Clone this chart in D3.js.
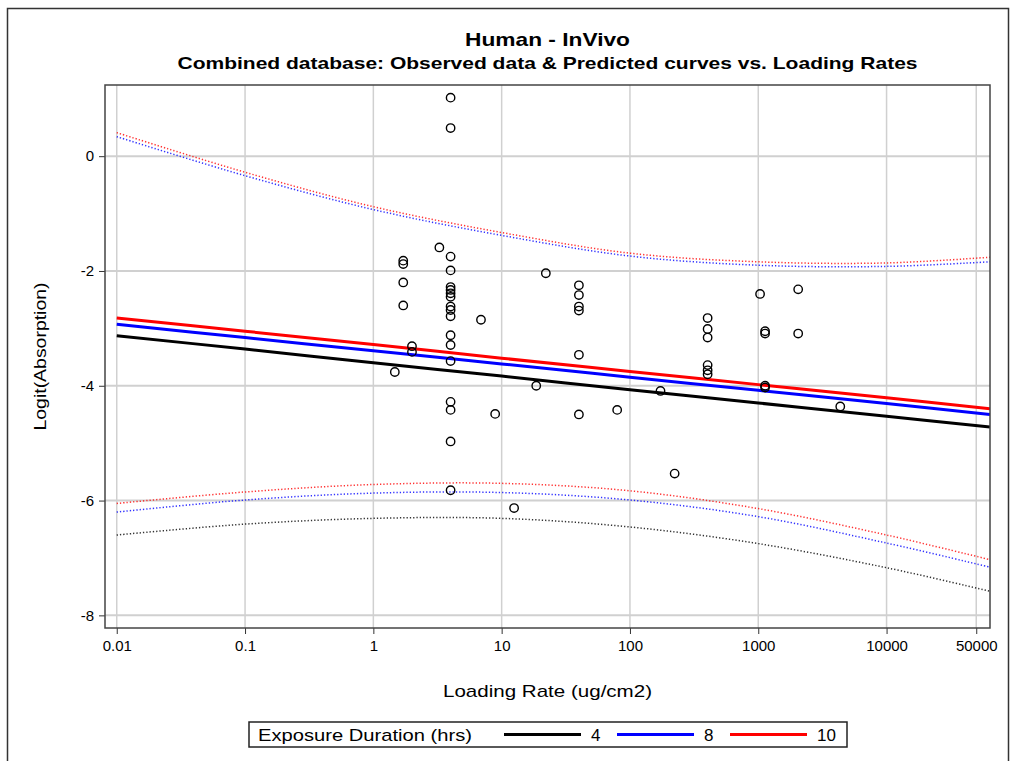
<!DOCTYPE html>
<html>
<head>
<meta charset="utf-8">
<script src="https://cdn.jsdelivr.net/npm/d3@7"></script>
<style>
  html, body { margin: 0; padding: 0; background: #fff; }
  svg text { font-family: "Liberation Sans", Arial, sans-serif; fill: #000; }
</style>
</head>
<body>
<svg id="chart" width="1013" height="761"></svg>
<script>
// Observed data: loading rate (ug/cm2) and logit(absorption)
const obsLoading = [
  1.47, 1.71, 1.71, 1.71, 1.71, 2.0, 2.0, 3.27,
  4, 4, 4, 4, 4, 4, 4, 4, 4, 4, 4, 4, 4, 4, 4, 4, 4, 4,
  6.9, 8.9, 12.5, 18.6, 22.1,
  40, 40, 40, 40, 40, 40,
  79.5, 173, 223,
  403, 403, 403, 403, 403, 403,
  1033, 1130, 1130, 1130, 1130, 2047, 2047, 4356
];
const obsLogit = [
  -3.76, -1.82, -1.88, -2.2, -2.6, -3.31, -3.41, -1.59,
  1.02, 0.49, -1.75, -1.99, -2.28, -2.33, -2.39, -2.45, -2.62, -2.68, -2.79, -3.12, -3.29, -3.57, -4.28, -4.42, -4.97, -5.82,
  -2.85, -4.49, -6.13, -4.0, -2.04,
  -2.25, -2.42, -2.62, -2.69, -3.46, -4.5,
  -4.42, -4.09, -5.53,
  -2.82, -3.01, -3.16, -3.64, -3.73, -3.80,
  -2.40, -3.05, -3.09, -4.00, -4.03, -2.32, -3.09, -4.36
];

// Loading rates at which the predicted curves are evaluated
const curveLoading = [0.01, 0.1, 1, 10, 100, 1000, 10000, 64000];

// Exposure durations (hrs) and their colours
const durations = ["4", "8", "10"];
const durationColors = ["#000000", "#0000ff", "#ff0000"];

// Predicted logit per duration
const pred4  = [-3.13, -3.36, -3.60, -3.83, -4.07, -4.30, -4.53, -4.72];
const pred8  = [-2.93, -3.16, -3.39, -3.62, -3.85, -4.08, -4.31, -4.50];
const pred10 = [-2.82, -3.05, -3.28, -3.52, -3.75, -3.98, -4.21, -4.40];

// Upper prediction limits
const upper8  = [0.34, -0.34, -0.93, -1.38, -1.74, -1.90, -1.92, -1.84];
const upper10 = [0.41, -0.28, -0.88, -1.33, -1.69, -1.84, -1.86, -1.76];

// Lower prediction limits
const lower4  = [-6.60, -6.41, -6.31, -6.31, -6.46, -6.75, -7.17, -7.58];
const lower8  = [-6.20, -5.99, -5.87, -5.86, -5.99, -6.28, -6.74, -7.16];
const lower10 = [-6.05, -5.85, -5.72, -5.70, -5.83, -6.14, -6.60, -7.03];

// Axis ticks
const xTicks = [0.01, 0.1, 1, 10, 100, 1000, 10000, 50000];
const xTickLabels = ["0.01", "0.1", "1", "10", "100", "1000", "10000", "50000"];
const yTicks = [0, -2, -4, -6, -8];

const svg = d3.select("#chart");
const plot = { left: 105, right: 990, top: 85, bottom: 628 };

const x = d3.scaleLog().domain([0.0081, 64000]).range([plot.left, plot.right]);
const y = d3.scaleLinear().domain([-8.22, 1.24]).range([plot.bottom, plot.top]);

// Outer border
svg.append("rect")
  .attr("x", 7.5).attr("y", 8.5).attr("width", 1001).attr("height", 780)
  .attr("fill", "none").attr("stroke", "#333").attr("stroke-width", 1.5);

// Titles
svg.append("text").attr("x", 547.5).attr("y", 46).attr("text-anchor", "middle")
  .attr("font-size", 19).attr("font-weight", "bold")
  .attr("textLength", 165).attr("lengthAdjust", "spacingAndGlyphs")
  .text("Human - InVivo");
svg.append("text").attr("x", 547.5).attr("y", 69).attr("text-anchor", "middle")
  .attr("font-size", 17).attr("font-weight", "bold")
  .attr("textLength", 740).attr("lengthAdjust", "spacingAndGlyphs")
  .text("Combined database: Observed data & Predicted curves vs. Loading Rates");

// Grid
const grid = svg.append("g");
grid.selectAll("line.gx").data(xTicks).join("line")
  .attr("x1", d => x(d)).attr("x2", d => x(d))
  .attr("y1", plot.top).attr("y2", plot.bottom)
  .attr("stroke", "#d0d0d0").attr("stroke-width", 1.5);
grid.selectAll("line.gy").data(yTicks).join("line")
  .attr("x1", plot.left).attr("x2", plot.right)
  .attr("y1", d => y(d)).attr("y2", d => y(d))
  .attr("stroke", "#d0d0d0").attr("stroke-width", 2);

// Axes
const xAxis = d3.axisBottom(x).tickValues(xTicks)
  .tickFormat((d, i) => xTickLabels[i]).tickSize(6).tickPadding(6);
const gx = svg.append("g").attr("transform", `translate(0,${plot.bottom})`).call(xAxis);
gx.select(".domain").remove();
gx.selectAll("line").attr("stroke", "#333");
gx.selectAll("text").attr("font-size", 15).attr("font-family", "Liberation Sans, Arial, sans-serif");

const yAxis = d3.axisLeft(y).tickValues(yTicks).tickSize(6).tickPadding(5)
  .tickFormat(d => String(d));
const gy = svg.append("g").attr("transform", `translate(${plot.left},0)`).call(yAxis);
gy.select(".domain").remove();
gy.selectAll("line").attr("stroke", "#333");
gy.selectAll("text").attr("font-size", 15).attr("font-family", "Liberation Sans, Arial, sans-serif");

// Axis labels
svg.append("text").attr("x", 547.5).attr("y", 697).attr("text-anchor", "middle")
  .attr("font-size", 17).attr("textLength", 209).attr("lengthAdjust", "spacingAndGlyphs")
  .text("Loading Rate (ug/cm2)");
svg.append("text")
  .attr("transform", `translate(46,${(plot.top + plot.bottom) / 2}) rotate(-90)`)
  .attr("text-anchor", "middle").attr("font-size", 17)
  .attr("textLength", 148).attr("lengthAdjust", "spacingAndGlyphs")
  .text("Logit(Absorption)");

// Clip to plot area
svg.append("clipPath").attr("id", "plotClip").append("rect")
  .attr("x", plot.left).attr("y", plot.top)
  .attr("width", plot.right - plot.left).attr("height", plot.bottom - plot.top);
const body = svg.append("g").attr("clip-path", "url(#plotClip)");

const line = d3.line()
  .x((d, i) => x(curveLoading[i]))
  .y(d => y(d))
  .curve(d3.curveCatmullRom);

// Prediction limits (dotted)
const limits = [
  { v: lower4, c: durationColors[0] },
  { v: lower8, c: durationColors[1] },
  { v: upper8, c: durationColors[1] },
  { v: lower10, c: durationColors[2] },
  { v: upper10, c: durationColors[2] }
];
body.selectAll("path.limit").data(limits).join("path")
  .attr("class", "limit")
  .attr("d", d => line(d.v))
  .attr("fill", "none").attr("stroke", d => d.c)
  .attr("stroke-opacity", 0.8)
  .attr("stroke-width", 1.5).attr("stroke-dasharray", "1.3,2");

// Predicted curves
const preds = [
  { v: pred4, c: durationColors[0] },
  { v: pred8, c: durationColors[1] },
  { v: pred10, c: durationColors[2] }
];
body.selectAll("path.pred").data(preds).join("path")
  .attr("class", "pred")
  .attr("d", d => line(d.v))
  .attr("fill", "none").attr("stroke", d => d.c).attr("stroke-width", 3);

// Observed points
body.selectAll("circle").data(obsLoading).join("circle")
  .attr("cx", d => x(d)).attr("cy", (d, i) => y(obsLogit[i]))
  .attr("r", 4.2).attr("fill", "none").attr("stroke", "#000").attr("stroke-width", 1.4);

// Plot frame
svg.append("rect")
  .attr("x", plot.left).attr("y", plot.top)
  .attr("width", plot.right - plot.left).attr("height", plot.bottom - plot.top)
  .attr("fill", "none").attr("stroke", "#444").attr("stroke-width", 1.5);

// Legend
const lg = svg.append("g");
lg.append("rect").attr("x", 249).attr("y", 722).attr("width", 598).attr("height", 25)
  .attr("fill", "#fff").attr("stroke", "#222").attr("stroke-width", 1.5);
lg.append("text").attr("x", 258).attr("y", 741).attr("font-size", 17)
  .attr("textLength", 214).attr("lengthAdjust", "spacingAndGlyphs")
  .text("Exposure Duration (hrs)");
const legendLineX = [504, 617, 730];
durations.forEach((d, i) => {
  lg.append("line")
    .attr("x1", legendLineX[i]).attr("x2", legendLineX[i] + 77)
    .attr("y1", 734.5).attr("y2", 734.5)
    .attr("stroke", durationColors[i]).attr("stroke-width", 3);
  lg.append("text").attr("x", legendLineX[i] + 87).attr("y", 741)
    .attr("font-size", 17).text(d);
});
</script>
</body>
</html>
